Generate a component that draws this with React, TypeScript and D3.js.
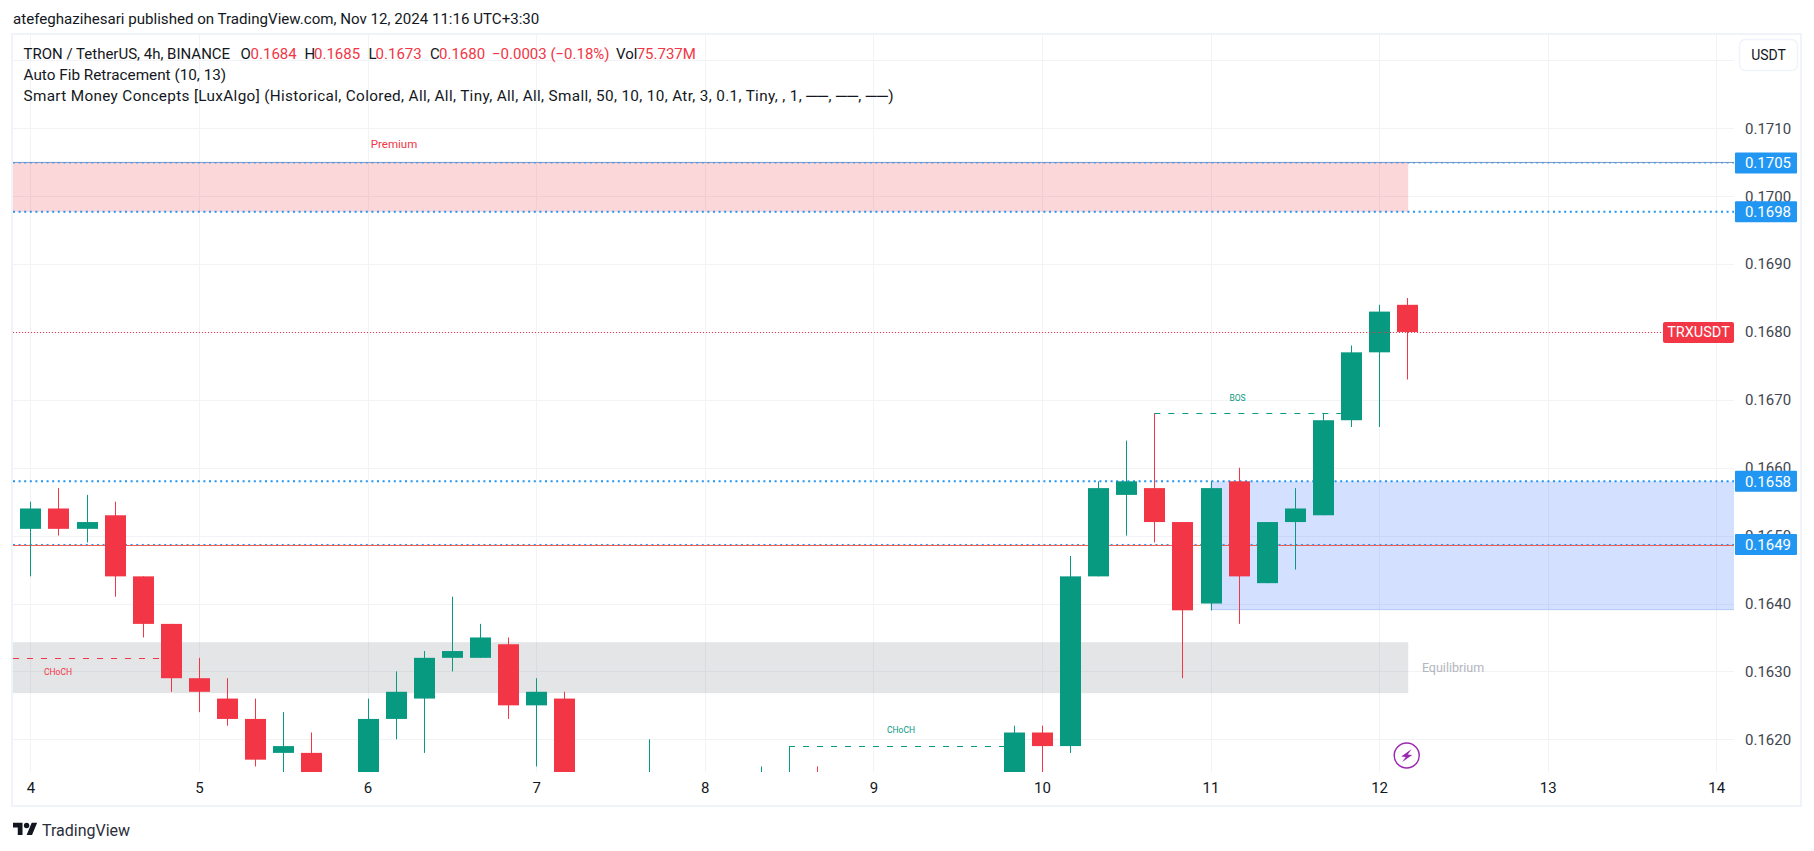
import React, { useEffect, useRef } from "react";
import * as d3 from "d3";

const opens = [0.1651, 0.1654, 0.1651, 0.1653, 0.1644, 0.1637, 0.1629, 0.1626, 0.1623, 0.1618, 0.1618, 0.1612, 0.1613, 0.1623, 0.1626, 0.1632, 0.1632, 0.1634, 0.1625, 0.1626, 0.1612, 0.1608, 0.1609, 0.1610, 0.1609, 0.1607, 0.1608, 0.1610, 0.1612, 0.1609, 0.1608, 0.1606, 0.1605, 0.1606, 0.1608, 0.1612, 0.1621, 0.1619, 0.1644, 0.1656, 0.1657, 0.1652, 0.1640, 0.1658, 0.1643, 0.1652, 0.1653, 0.1667, 0.1677, 0.1684];
const highs = [0.1655, 0.1657, 0.1656, 0.1655, 0.1644, 0.1637, 0.1632, 0.1629, 0.1626, 0.1624, 0.1621, 0.1614, 0.1626, 0.1630, 0.1633, 0.1641, 0.1637, 0.1635, 0.1629, 0.1627, 0.1614, 0.1614, 0.1620, 0.1613, 0.1611, 0.1610, 0.1616, 0.1619, 0.1616, 0.1612, 0.1610, 0.1609, 0.1608, 0.1610, 0.1612, 0.1622, 0.1622, 0.1647, 0.1658, 0.1664, 0.1668, 0.1652, 0.1658, 0.1660, 0.1652, 0.1657, 0.1668, 0.1678, 0.1684, 0.1685];
const lows = [0.1644, 0.1650, 0.1649, 0.1641, 0.1635, 0.1627, 0.1624, 0.1622, 0.1616, 0.1614, 0.1610, 0.1610, 0.1611, 0.1620, 0.1618, 0.1630, 0.1632, 0.1623, 0.1616, 0.1610, 0.1606, 0.1605, 0.1607, 0.1607, 0.1605, 0.1604, 0.1606, 0.1608, 0.1607, 0.1606, 0.1604, 0.1603, 0.1603, 0.1604, 0.1606, 0.1610, 0.1612, 0.1618, 0.1644, 0.1650, 0.1649, 0.1629, 0.1639, 0.1637, 0.1643, 0.1645, 0.1653, 0.1666, 0.1666, 0.1673];
const closes = [0.1654, 0.1651, 0.1652, 0.1644, 0.1637, 0.1629, 0.1627, 0.1623, 0.1617, 0.1619, 0.1612, 0.1613, 0.1623, 0.1627, 0.1632, 0.1633, 0.1635, 0.1625, 0.1627, 0.1612, 0.1608, 0.1612, 0.1610, 0.1609, 0.1607, 0.1608, 0.1610, 0.1612, 0.1609, 0.1608, 0.1606, 0.1605, 0.1606, 0.1608, 0.1612, 0.1621, 0.1619, 0.1644, 0.1657, 0.1658, 0.1652, 0.1639, 0.1657, 0.1644, 0.1652, 0.1654, 0.1667, 0.1677, 0.1683, 0.1680];

const priceTicks = [0.162, 0.163, 0.164, 0.165, 0.166, 0.167, 0.168, 0.169, 0.17, 0.171];
const hiddenGridTick = 0.172;
const dayTicks = [4, 5, 6, 7, 8, 9, 10, 11, 12, 13, 14];
const levelPrices = [0.17049, 0.16977, 0.1658, 0.16487];
const levelWidths = [1, 2, 2, 1];
const premiumZone = [0.17049, 0.16977];
const equilibriumZone = [0.16343, 0.16268];
const discountZone = [0.1658, 0.16391];
const lastPrice = 0.168;
const changeLabel = "\u22120.0003 (\u22120.18%)";
const volumeLabel = "75.737M";

const UP = "#089981";
const DOWN = "#f23645";
const BLUE = "#2196f3";
const GRID = "#f2f3f6";
const FONT = "Roboto, sans-serif";

const App = () => {
  const svgRef = useRef<SVGSVGElement>(null);

  useEffect(() => {
    const svg = d3.select(svgRef.current);
    svg.selectAll("*").remove();

    const left = 13;
    const right = 1734;
    const top = 35;
    const bottom = 772;

    const x = d3.scaleLinear().domain([4, 14]).range([30.4, 1716.3]);
    const y = d3.scaleLinear().domain([0.162, 0.171]).range([739.3, 128.3]);
    const candleX = (i: number) => x(4 + i / 6);

    svg
      .append("defs")
      .append("clipPath")
      .attr("id", "pane")
      .append("rect")
      .attr("x", left)
      .attr("y", top)
      .attr("width", right - left)
      .attr("height", bottom - top);

    // header
    svg
      .append("text")
      .attr("x", 13)
      .attr("y", 24)
      .attr("font-size", 15.1)
      .attr("fill", "#131722")
      .text("atefeghazihesari published on TradingView.com, Nov 12, 2024 11:16 UTC+3:30");

    // frame
    svg
      .append("rect")
      .attr("x", 12)
      .attr("y", 34)
      .attr("width", 1789)
      .attr("height", 772)
      .attr("fill", "none")
      .attr("stroke", "#f0f3fa")
      .attr("stroke-width", 2);

    const pane = svg.append("g").attr("clip-path", "url(#pane)");

    // grid
    pane
      .selectAll("line.h")
      .data([...priceTicks, hiddenGridTick])
      .enter()
      .append("line")
      .attr("x1", left)
      .attr("x2", right)
      .attr("y1", (d) => Math.round(y(d)) + 0.5)
      .attr("y2", (d) => Math.round(y(d)) + 0.5)
      .attr("stroke", GRID);
    pane
      .selectAll("line.v")
      .data(dayTicks)
      .enter()
      .append("line")
      .attr("x1", (d) => Math.round(x(d)) + 0.5)
      .attr("x2", (d) => Math.round(x(d)) + 0.5)
      .attr("y1", top)
      .attr("y2", bottom)
      .attr("stroke", GRID);

    // zones
    const zone = (x1: number, x2: number, prices: number[], color: string) =>
      pane
        .append("rect")
        .attr("x", x1)
        .attr("width", x2 - x1)
        .attr("y", y(prices[0]))
        .attr("height", y(prices[1]) - y(prices[0]))
        .attr("fill", color)
        .attr("fill-opacity", 0.2);
    const zoneEnd = candleX(49) + 1;
    zone(left, zoneEnd, premiumZone, "#f23645");
    zone(left, zoneEnd, equilibriumZone, "#787b86");
    zone(candleX(42), right, discountZone, "#2962ff");
    pane
      .append("line")
      .attr("x1", candleX(42))
      .attr("x2", right)
      .attr("y1", y(discountZone[1]))
      .attr("y2", y(discountZone[1]))
      .attr("stroke", "#b3c9f5");

    // fib lines
    pane
      .append("line")
      .attr("x1", left)
      .attr("x2", right)
      .attr("y1", y(levelPrices[0]) - 0.5)
      .attr("y2", y(levelPrices[0]) - 0.5)
      .attr("stroke", "#7f97c4");
    pane
      .append("line")
      .attr("x1", left)
      .attr("x2", right)
      .attr("y1", y(levelPrices[3]) + 1)
      .attr("y2", y(levelPrices[3]) + 1)
      .attr("stroke", "#f0584f")
      .attr("stroke-width", 1);
    pane
      .selectAll("line.level")
      .data(levelPrices)
      .enter()
      .append("line")
      .attr("x1", left)
      .attr("x2", right)
      .attr("y1", (d) => y(d))
      .attr("y2", (d) => y(d))
      .attr("stroke", BLUE)
      .attr("stroke-width", (_, i) => levelWidths[i])
      .attr("stroke-dasharray", "2 3.6");

    // structure lines
    const dashed = (x1: number, x2: number, price: number, color: string) =>
      pane
        .append("line")
        .attr("x1", x1)
        .attr("x2", x2)
        .attr("y1", Math.round(y(price)) + 0.5)
        .attr("y2", Math.round(y(price)) + 0.5)
        .attr("stroke", color)
        .attr("stroke-dasharray", "6 8");
    dashed(left, candleX(5), 0.1632, DOWN);
    dashed(candleX(27), candleX(35), 0.1619, UP);
    dashed(candleX(40), candleX(47), 0.1668, UP);

    const note = (px: number, py: number, label: string, color: string, size: number) =>
      svg
        .append("text")
        .attr("x", px)
        .attr("y", py)
        .attr("text-anchor", "middle")
        .attr("dominant-baseline", "central")
        .attr("font-size", size)
        .attr("fill", color)
        .text(label);
    note(394, 144, "Premium", DOWN, 11.5);
    note(1453, 667, "Equilibrium", "#b2b5be", 12.5);
    note(1237.5, 398, "BOS", UP, 8.5);
    note(58, 672, "CHoCH", DOWN, 8.5);
    note(901, 730, "CHoCH", UP, 8.5);

    // candles
    const idx = d3.range(closes.length);
    const color = (i: number) => (closes[i] >= opens[i] ? UP : DOWN);
    const candleW = 21;
    pane
      .selectAll("line.wick")
      .data(idx)
      .enter()
      .append("line")
      .attr("x1", (i) => Math.round(candleX(i)) + 0.5)
      .attr("x2", (i) => Math.round(candleX(i)) + 0.5)
      .attr("y1", (i) => y(highs[i]))
      .attr("y2", (i) => y(lows[i]))
      .attr("stroke", color);
    pane
      .selectAll("rect.body")
      .data(idx)
      .enter()
      .append("rect")
      .attr("x", (i) => Math.round(candleX(i)) + 0.5 - candleW / 2)
      .attr("width", candleW)
      .attr("y", (i) => y(Math.max(opens[i], closes[i])))
      .attr("height", (i) => Math.abs(y(opens[i]) - y(closes[i])))
      .attr("fill", color);

    // last price line, above the candles
    pane
      .append("line")
      .attr("x1", left)
      .attr("x2", 1663)
      .attr("y1", Math.round(y(lastPrice)) + 0.5)
      .attr("y2", Math.round(y(lastPrice)) + 0.5)
      .attr("stroke", DOWN)
      .attr("stroke-dasharray", "1 2");

    // price axis
    const yAxis = svg
      .append("g")
      .attr("transform", `translate(${right},0)`)
      .call(
        d3
          .axisRight(y)
          .tickValues(priceTicks)
          .tickSize(0)
          .tickPadding(11)
          .tickFormat((d) => d3.format(".4f")(d as number))
      );
    yAxis.select(".domain").remove();
    yAxis.selectAll("text").attr("font-size", 15).attr("font-family", FONT).attr("fill", "#42454f");

    // time axis
    const xAxis = svg
      .append("g")
      .attr("transform", `translate(0,${bottom})`)
      .call(d3.axisBottom(x).tickValues(dayTicks).tickSize(0).tickPadding(10).tickFormat(d3.format("d")));
    xAxis.select(".domain").remove();
    xAxis.selectAll("text").attr("font-size", 15).attr("font-family", FONT).attr("fill", "#131722");

    // blue level tags
    levelPrices.forEach((p) => {
      svg
        .append("rect")
        .attr("x", 1735)
        .attr("y", y(p) - 10.5)
        .attr("width", 62)
        .attr("height", 21)
        .attr("rx", 1)
        .attr("fill", BLUE);
      svg
        .append("text")
        .attr("x", 1791)
        .attr("y", y(p) + 0.5)
        .attr("text-anchor", "end")
        .attr("dominant-baseline", "central")
        .attr("font-size", 15)
        .attr("fill", "#fff")
        .text(d3.format(".4f")(p));
    });

    // symbol tag
    svg
      .append("rect")
      .attr("x", 1663)
      .attr("y", y(lastPrice) - 10)
      .attr("width", 71)
      .attr("height", 21)
      .attr("rx", 2)
      .attr("fill", DOWN);
    svg
      .append("text")
      .attr("x", 1698.5)
      .attr("y", y(lastPrice) + 0.5)
      .attr("text-anchor", "middle")
      .attr("dominant-baseline", "central")
      .attr("font-size", 14.5)
      .attr("fill", "#fff")
      .text("TRXUSDT");

    // currency button
    svg
      .append("rect")
      .attr("x", 1739.5)
      .attr("y", 39.5)
      .attr("width", 58)
      .attr("height", 31)
      .attr("rx", 6)
      .attr("fill", "#fff")
      .attr("stroke", "#f0f3fa")
      .attr("stroke-width", 1.5);
    svg
      .append("text")
      .attr("x", 1768.5)
      .attr("y", 55)
      .attr("text-anchor", "middle")
      .attr("dominant-baseline", "central")
      .attr("font-size", 14)
      .attr("fill", "#131722")
      .text("USDT");

    // legend
    const fmt = d3.format(".4f");
    const n = closes.length - 1;
    const row1: [number, string, string][] = [
      [23.5, "TRON / TetherUS, 4h, BINANCE", "#131722"],
      [240.6, "O", "#131722"],
      [250.6, fmt(opens[n]), DOWN],
      [304.6, "H", "#131722"],
      [314, fmt(highs[n]), DOWN],
      [368.5, "L", "#131722"],
      [375.6, fmt(lows[n]), DOWN],
      [430, "C", "#131722"],
      [439, fmt(closes[n]), DOWN],
      [492, changeLabel, DOWN],
      [616, "Vol", "#131722"],
      [636.7, volumeLabel, DOWN],
    ];
    row1.forEach(([px, label, fill]) => {
      svg
        .append("text")
        .attr("x", px)
        .attr("y", 53.5)
        .attr("dominant-baseline", "central")
        .attr("font-size", 15)
        .attr("fill", fill)
        .text(label);
    });
    svg
      .append("text")
      .attr("x", 23.5)
      .attr("y", 75)
      .attr("dominant-baseline", "central")
      .attr("font-size", 15.3)
      .attr("fill", "#131722")
      .text("Auto Fib Retracement (10, 13)");
    svg
      .append("text")
      .attr("x", 23.5)
      .attr("y", 96)
      .attr("dominant-baseline", "central")
      .attr("font-size", 15.3)
      .attr("textLength", 870)
      .attr("fill", "#131722")
      .text("Smart Money Concepts [LuxAlgo] (Historical, Colored, All, All, Tiny, All, All, Small, 50, 10, 10, Atr, 3, 0.1, Tiny, , 1, \u2500\u2500, \u2500\u2500, \u2500\u2500)");

    // lightning marker
    const bolt = svg.append("g").attr("transform", `translate(${candleX(49) - 0.5},755.5)`);
    bolt
      .append("circle")
      .attr("r", 12.5)
      .attr("fill", "#fff")
      .attr("stroke", "#9c27b0")
      .attr("stroke-width", 1.5);
    bolt.append("path").attr("d", "M5 -6.5 L-5.5 1 L-1 1.5 L-4.5 6.5 L5.5 -0.5 L1 -1 Z").attr("fill", "#9c27b0");

    // footer logo
    const logo = svg.append("g").attr("transform", "translate(13,820) scale(0.68)");
    logo.append("path").attr("d", "M14 22H7V11H0V4h14v18zM28 22h-8l7.5-18h8L28 22z").attr("fill", "#131722");
    logo.append("circle").attr("cx", 20).attr("cy", 8).attr("r", 4).attr("fill", "#131722");
    svg
      .append("text")
      .attr("x", 42)
      .attr("y", 830)
      .attr("dominant-baseline", "central")
      .attr("font-size", 16)
      .attr("fill", "#2a2e39")
      .text("TradingView");
  }, []);

  return (
    <svg
      ref={svgRef}
      width={1814}
      height={851}
      style={{ position: "absolute", left: 0, top: 0, background: "#fff", fontFamily: FONT }}
    />
  );
};

export default App;
